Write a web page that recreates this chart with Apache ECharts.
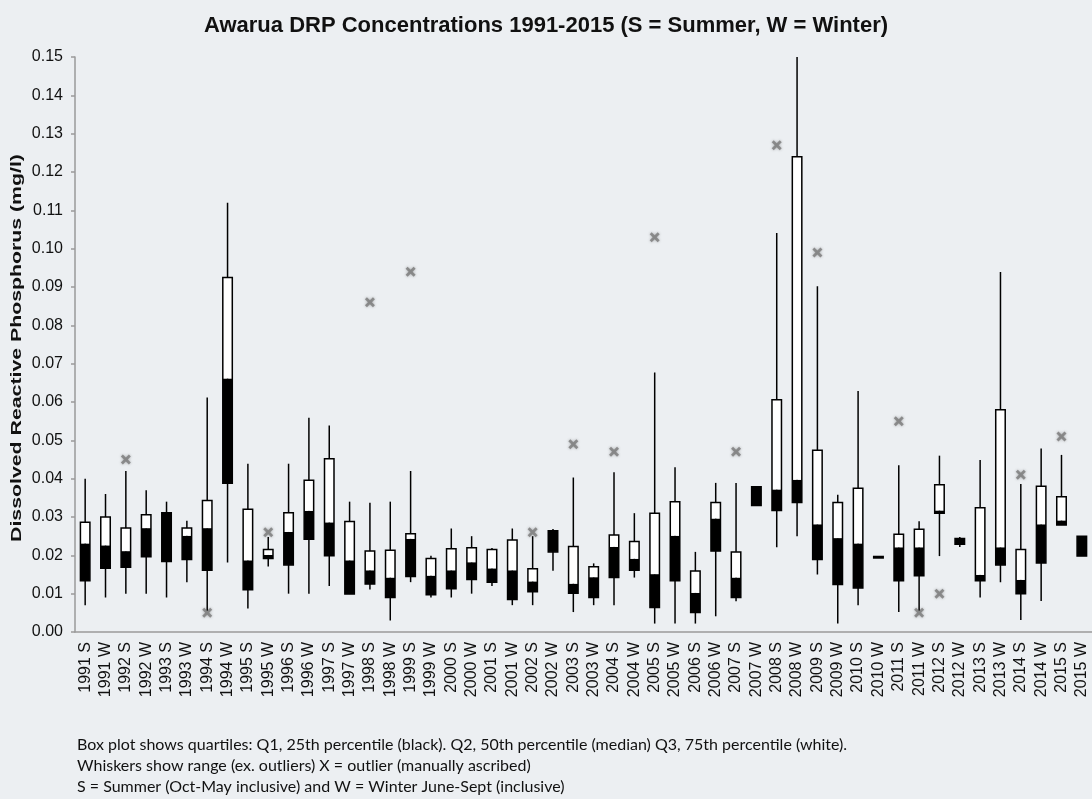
<!DOCTYPE html>
<html>
<head>
<meta charset="utf-8">
<script src="https://cdn.jsdelivr.net/npm/echarts@6/dist/echarts.min.js"></script>
<style>
  html, body { margin: 0; padding: 0; background: #eceff2; }
  #chart { width: 1092px; height: 799px; }
</style>
</head>
<body>
<div id="chart"></div>
<script>
// season categories
var categories = [
    '1991 S', '1991 W', '1992 S', '1992 W', '1993 S', '1993 W', '1994 S', '1994 W', '1995 S', '1995 W',
    '1996 S', '1996 W', '1997 S', '1997 W', '1998 S', '1998 W', '1999 S', '1999 W', '2000 S', '2000 W',
    '2001 S', '2001 W', '2002 S', '2002 W', '2003 S', '2003 W', '2004 S', '2004 W', '2005 S', '2005 W',
    '2006 S', '2006 W', '2007 S', '2007 W', '2008 S', '2008 W', '2009 S', '2009 W', '2010 S', '2010 W',
    '2011 S', '2011 W', '2012 S', '2012 W', '2013 S', '2013 W', '2014 S', '2014 W', '2015 S', '2015 W'
];

// whisker ends (ex. outliers)
var lowVals = [
    0.0070, 0.0090, 0.0100, 0.0100, 0.0090, 0.0130, 0.0055, 0.0181, 0.0061, 0.0171,
    0.0100, 0.0100, 0.0120, 0.0099, 0.0111, 0.0030, 0.0130, 0.0090, 0.0090, 0.0100,
    0.0120, 0.0070, 0.0070, 0.0160, 0.0052, 0.0070, 0.0070, 0.0142, 0.0022, 0.0022,
    0.0022, 0.0041, 0.0080, 0.0330, 0.0221, 0.0250, 0.0150, 0.0022, 0.0070, 0.0193,
    0.0052, 0.0055, 0.0198, 0.0222, 0.0090, 0.0130, 0.0031, 0.0081, 0.0279, 0.0198
];
var highVals = [
    0.0400, 0.0360, 0.0420, 0.0370, 0.0340, 0.0290, 0.0612, 0.1120, 0.0439, 0.0248,
    0.0439, 0.0559, 0.0539, 0.0340, 0.0337, 0.0340, 0.0420, 0.0199, 0.0270, 0.0250,
    0.0219, 0.0270, 0.0250, 0.0269, 0.0403, 0.0179, 0.0417, 0.0310, 0.0677, 0.0430,
    0.0209, 0.0389, 0.0389, 0.0379, 0.1041, 0.1500, 0.0902, 0.0358, 0.0629, 0.0198,
    0.0435, 0.0289, 0.0460, 0.0248, 0.0449, 0.0939, 0.0386, 0.0479, 0.0462, 0.0250
];
// quartiles
var q1Vals = [
    0.0134, 0.0166, 0.0169, 0.0196, 0.0184, 0.0189, 0.0161, 0.0388, 0.0110, 0.0192,
    0.0175, 0.0242, 0.0199, 0.0099, 0.0125, 0.0090, 0.0145, 0.0097, 0.0113, 0.0137,
    0.0130, 0.0085, 0.0105, 0.0209, 0.0101, 0.0090, 0.0142, 0.0161, 0.0064, 0.0134,
    0.0051, 0.0211, 0.0090, 0.0330, 0.0317, 0.0338, 0.0189, 0.0124, 0.0115, 0.0194,
    0.0134, 0.0147, 0.0310, 0.0229, 0.0134, 0.0175, 0.0100, 0.0180, 0.0279, 0.0198
];
var medVals = [
    0.0231, 0.0226, 0.0211, 0.0271, 0.0311, 0.0251, 0.0271, 0.0661, 0.0187, 0.0201,
    0.0261, 0.0316, 0.0286, 0.0187, 0.0161, 0.0142, 0.0243, 0.0147, 0.0161, 0.0182,
    0.0166, 0.0161, 0.0132, 0.0264, 0.0126, 0.0143, 0.0222, 0.0191, 0.0151, 0.0251,
    0.0102, 0.0296, 0.0142, 0.0379, 0.0372, 0.0397, 0.0281, 0.0245, 0.0231, 0.0197,
    0.0221, 0.0221, 0.0317, 0.0244, 0.0149, 0.0221, 0.0136, 0.0281, 0.0291, 0.0250
];
var q3Vals = [
    0.0286, 0.0300, 0.0271, 0.0306, 0.0311, 0.0271, 0.0343, 0.0925, 0.0320, 0.0215,
    0.0311, 0.0396, 0.0452, 0.0288, 0.0211, 0.0213, 0.0256, 0.0192, 0.0217, 0.0220,
    0.0215, 0.0240, 0.0165, 0.0264, 0.0223, 0.0170, 0.0253, 0.0236, 0.0310, 0.0340,
    0.0159, 0.0338, 0.0209, 0.0379, 0.0606, 0.1240, 0.0474, 0.0338, 0.0375, 0.0197,
    0.0255, 0.0268, 0.0384, 0.0244, 0.0324, 0.0580, 0.0215, 0.0380, 0.0353, 0.0250
];

// manually ascribed outliers: [category index, value]
var outliers = [
    [2, 0.045], [6, 0.005], [9, 0.026], [14, 0.086], [16, 0.094], [22, 0.026],
    [24, 0.049], [26, 0.047], [28, 0.103], [32, 0.047], [34, 0.127], [36, 0.099],
    [40, 0.055], [41, 0.005], [42, 0.010], [46, 0.041], [48, 0.051]
];

var yTicks = { min: 0, max: 0.15, interval: 0.01 };

var yName = 'Dissolved Reactive Phosphorus (mg/l)';
var footnotes = [
    'Box plot shows quartiles: Q1, 25th percentile (black). Q2, 50th percentile (median) Q3, 75th percentile (white).',
    'Whiskers show range (ex. outliers) X = outlier (manually ascribed)',
    'S = Summer (Oct-May inclusive) and W = Winter June-Sept (inclusive)'
];

var boxData = categories.map(function (c, i) {
    return [i, lowVals[i], q1Vals[i], medVals[i], q3Vals[i], highVals[i]];
});

var chart = echarts.init(document.getElementById('chart'));

function renderBox(params, api) {
    var i = api.value(0);
    var pLow = api.coord([i, api.value(1)]);
    var pQ1 = api.coord([i, api.value(2)]);
    var pMed = api.coord([i, api.value(3)]);
    var pQ3 = api.coord([i, api.value(4)]);
    var pHigh = api.coord([i, api.value(5)]);
    var w = 9.5;
    var x = pQ1[0] - w / 2;
    return {
        type: 'group',
        children: [
            {
                type: 'line',
                shape: { x1: pLow[0], y1: pLow[1], x2: pHigh[0], y2: pHigh[1] },
                style: { stroke: '#000', lineWidth: 1.5 }
            },
            {
                type: 'rect',
                shape: { x: x, y: pMed[1], width: w, height: pQ1[1] - pMed[1] },
                style: { fill: '#000' }
            },
            {
                type: 'rect',
                shape: { x: x, y: pQ3[1], width: w, height: pMed[1] - pQ3[1] },
                style: { fill: '#fff' }
            },
            {
                type: 'rect',
                shape: { x: x, y: pQ3[1], width: w, height: Math.max(pQ1[1] - pQ3[1], 1.5) },
                style: { fill: 'none', stroke: '#000', lineWidth: 1.5 }
            }
        ]
    };
}

var graphics = footnotes.map(function (t, k) {
    return {
        type: 'text',
        left: 77,
        top: 737 + k * 21,
        style: {
            text: t,
            font: '16px Lato',
            fill: '#111'
        }
    };
});
// y axis title, drawn stretched along its length like the original
graphics.push({
    type: 'text',
    x: 17,
    y: 348,
    rotation: Math.PI / 2,
    scaleX: 1.52,
    style: {
        text: yName,
        font: 'bold 14px "Liberation Sans"',
        fill: '#111',
        align: 'center',
        verticalAlign: 'middle'
    }
});

var option = {
    backgroundColor: '#eceff2',
    animation: false,
    title: {
        text: 'Awarua DRP Concentrations 1991-2015 (S = Summer, W = Winter)',
        left: 'center',
        top: 10,
        textStyle: {
            fontFamily: 'Liberation Sans',
            fontWeight: 'bold',
            fontSize: 22,
            color: '#111'
        }
    },
    grid: {
        left: 75,
        top: 57,
        width: 1020,
        height: 575
    },
    xAxis: {
        type: 'category',
        data: categories,
        boundaryGap: true,
        axisLine: { lineStyle: { color: '#9a9a9a', width: 1.5 } },
        axisTick: { length: 4, lineStyle: { color: '#9a9a9a', width: 1.5 } },
        axisLabel: {
            interval: 0,
            rotate: 90,
            margin: 10,
            fontFamily: 'Liberation Sans',
            fontSize: 16,
            color: '#111'
        },
        splitLine: { show: false }
    },
    yAxis: {
        type: 'value',
        min: yTicks.min,
        max: yTicks.max,
        interval: yTicks.interval,
        axisLine: { show: true, lineStyle: { color: '#9a9a9a', width: 1.5 } },
        axisTick: { show: true, length: 4, lineStyle: { color: '#9a9a9a', width: 1.5 } },
        axisLabel: {
            margin: 12,
            fontFamily: 'Liberation Sans',
            fontSize: 16,
            color: '#111',
            formatter: function (v) { return v.toFixed(2); }
        },
        splitLine: { show: false }
    },
    graphic: graphics,
    series: [
        {
            type: 'custom',
            renderItem: renderBox,
            encode: { x: 0, y: [1, 2, 3, 4, 5] },
            data: boxData,
            z: 2
        },
        {
            type: 'scatter',
            data: outliers,
            symbol: 'path://M2,0 L5,3 L8,0 L10,2 L7,5 L10,8 L8,10 L5,7 L2,10 L0,8 L3,5 L0,2 Z',
            symbolSize: 10,
            itemStyle: {
                color: '#7a7a7a',
                shadowBlur: 3,
                shadowColor: 'rgba(0,0,0,0.35)'
            },
            z: 3
        }
    ]
};

chart.setOption(option);
</script>
</body>
</html>
